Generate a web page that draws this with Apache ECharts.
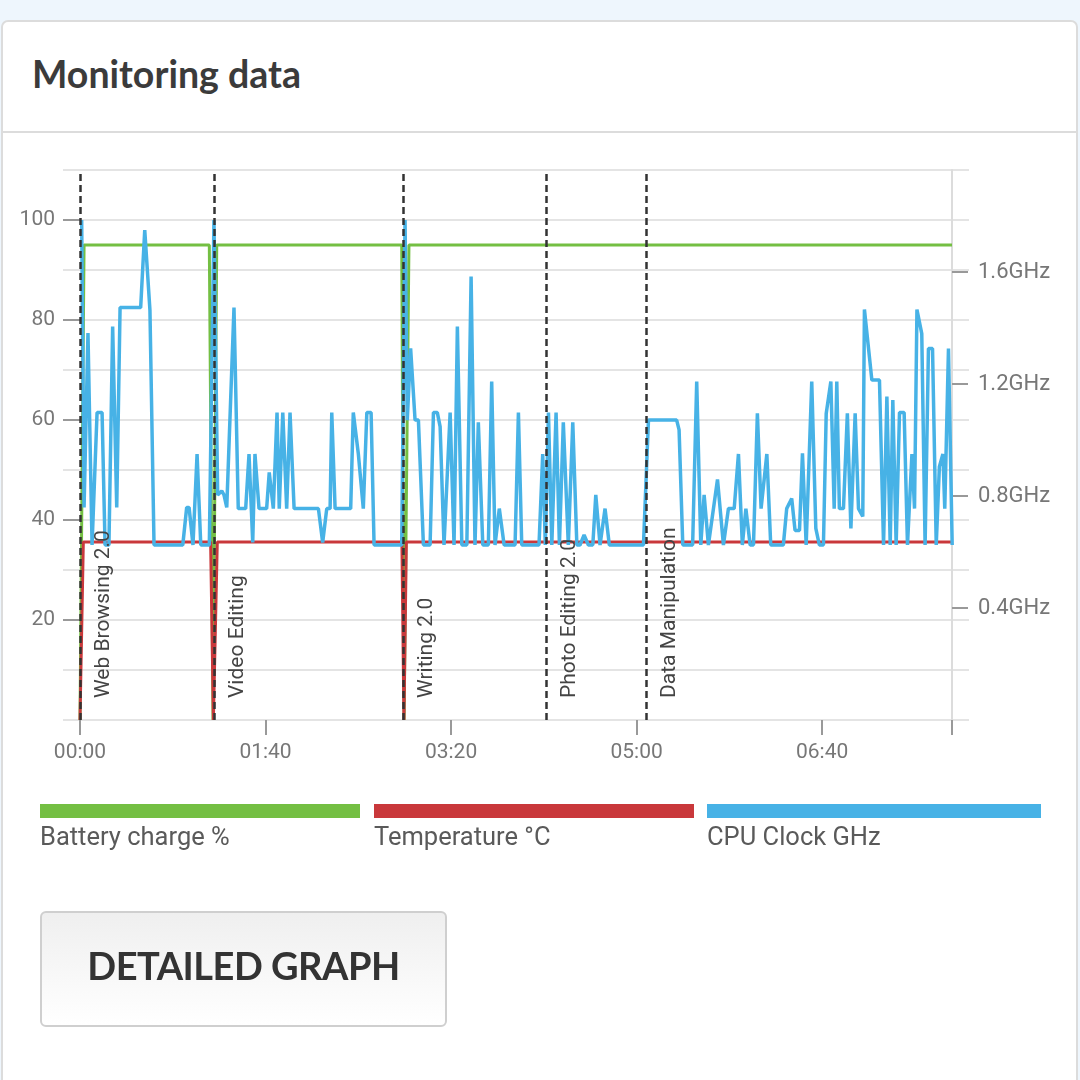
<!DOCTYPE html>
<html>
<head>
<meta charset="utf-8">
<title>Monitoring data</title>
<script src="https://cdn.jsdelivr.net/npm/echarts@6/dist/echarts.min.js"></script>
<style>
  html, body { margin: 0; padding: 0; }
  body { width: 1080px; height: 1080px; background: #eef6fd; position: relative; overflow: hidden; font-family: Roboto, sans-serif; }
  .card { position: absolute; left: 1px; top: 20px; width: 1077px; height: 1080px; background: #fff; border: 2px solid #dcdcdc; border-radius: 7px; box-sizing: border-box; }
  .card-head { height: 109px; border-bottom: 2px solid #dcdcdc; position: relative; }
  .card-head h2 { margin: 0; position: absolute; left: 29px; top: 29px; font: bold 37.5px Lato, sans-serif; color: #3b3b3b; }
  #chart { position: absolute; left: 0; top: 0; width: 1080px; height: 1080px; }
  .lg { position: absolute; top: 804px; }
  .lg .bar { height: 14px; }
  .lg .txt { margin-top: 3px; font: 25.5px Roboto, sans-serif; color: #5a5a5a; white-space: nowrap; }
  .btn { position: absolute; left: 40px; top: 911px; width: 407px; height: 116px; box-sizing: border-box; padding-bottom: 8px; border: 2px solid #cfcfcf; border-radius: 6px; background: linear-gradient(#efefef, #ffffff); font: bold 38px Lato, sans-serif; color: #333; display: flex; align-items: center; justify-content: center; letter-spacing: -0.5px; }
</style>
</head>
<body>
  <div class="card">
    <div class="card-head"><h2>Monitoring data</h2></div>
  </div>
  <div id="chart"></div>
  <div class="lg" style="left:40px;width:320px"><div class="bar" style="background:#74bf43"></div><div class="txt">Battery charge %</div></div>
  <div class="lg" style="left:374px;width:320px"><div class="bar" style="background:#c9383b"></div><div class="txt">Temperature °C</div></div>
  <div class="lg" style="left:707px;width:334px"><div class="bar" style="background:#47b2e6"></div><div class="txt">CPU Clock GHz</div></div>
  <div class="btn">DETAILED GRAPH</div>

<script>
  // minutes since start of the run
  var taskStarts = [0, 72.2, 174.1, 251.2, 305.1];
  var taskNames = ['Web Browsing 2.0', 'Video Editing', 'Writing 2.0', 'Photo Editing 2.0', 'Data Manipulation'];
  var timeTicks = [0, 100, 200, 300, 400];
  var percentTicks = [20, 40, 60, 80, 100];
  var ghzTicks = [0.4, 0.8, 1.2, 1.6];

  // [minute, %]
  var battery = [[0, 0], [2.2, 95], [69.7, 95], [71.7, 0], [73.7, 95], [173.4, 95], [174.7, 0], [177.3, 95], [470, 95]];
  // [minute, °C]
  var temperature = [[0, 0], [1.8, 35.6], [70.4, 35.6], [71.9, 0], [74.0, 35.6], [173.5, 35.6], [174.6, 0], [175.9, 35.6], [470, 35.6]];
  // [minute, GHz]
  var cpuClock = [
    [0.9, 1.786], [2.2, 0.759], [4.3, 1.382], [6.5, 0.625], [9.2, 1.098], [11.9, 1.098], [13.5, 0.625], [15.6, 0.625],
    [17.6, 1.405], [19.8, 0.759], [21.6, 1.473], [32.7, 1.473], [34.9, 1.750], [37.7, 1.464], [39.9, 0.625], [55.4, 0.625],
    [57.5, 0.759], [58.8, 0.759], [60.9, 0.625], [63.1, 0.950], [65.1, 0.625], [69.7, 0.625], [72.2, 1.786],
    [74.2, 0.804], [76.4, 0.818], [77.6, 0.804], [79.1, 0.759], [83.0, 1.473], [85.3, 0.755], [89.3, 0.755], [91.1, 0.950],
    [93.1, 0.634], [94.3, 0.950], [96.5, 0.755], [100.6, 0.755], [102.0, 0.884], [104.2, 0.755], [106.2, 1.098], [107.4, 0.755],
    [109.3, 1.098], [111.4, 0.755], [113.2, 1.098], [115.4, 0.755], [128.5, 0.755], [130.8, 0.634], [133.0, 0.755], [134.8, 0.755],
    [135.7, 1.098], [137.5, 0.755], [145.9, 0.755], [147.3, 1.098], [150.0, 0.952], [152.7, 0.755], [154.6, 1.098], [156.9, 1.098],
    [158.5, 0.625], [173.4, 0.625], [175.2, 1.786],
    [176.4, 1.071], [178.2, 1.327], [180.6, 1.071], [182.4, 1.071], [185.1, 0.625], [188.7, 0.625], [190.5, 1.098], [192.6, 1.098],
    [194.1, 1.048], [196.2, 0.625], [199.5, 1.098], [201.6, 0.625], [203.4, 1.405], [205.8, 0.625], [208.5, 0.625], [210.8, 1.584],
    [212.9, 0.625], [214.7, 1.063], [217.1, 0.625], [220.1, 0.625], [221.9, 1.209], [223.7, 0.625], [226.0, 0.755], [228.6, 0.625],
    [234.5, 0.625], [236.3, 1.098], [238.1, 0.625], [247.4, 0.625], [249.4, 0.950], [250.8, 0.625], [252.5, 1.098], [254.3, 0.625],
    [256.6, 1.098], [258.4, 0.625], [260.5, 1.063], [263.2, 0.625], [265.6, 1.063], [267.8, 0.625], [269.5, 0.625], [271.7, 0.661],
    [274.0, 0.625], [276.4, 0.625], [278.0, 0.804], [280.3, 0.625], [283.0, 0.755], [285.3, 0.625], [303.7, 0.625], [306.4, 1.071],
    [321.6, 1.071], [322.9, 1.036], [324.9, 0.625], [330.2, 0.625], [332.4, 1.209], [334.6, 0.625], [336.4, 0.804], [338.7, 0.625],
    [343.6, 0.859], [346.8, 0.625], [349.5, 0.755], [352.6, 0.755], [354.9, 0.950], [357.0, 0.625], [358.9, 0.755], [361.2, 0.625],
    [363.0, 0.625], [365.1, 1.095], [367.1, 0.755], [370.2, 0.950], [372.3, 0.625], [379.1, 0.625], [380.9, 0.755], [383.6, 0.791],
    [385.4, 0.677], [387.8, 0.677], [389.4, 0.952], [391.4, 0.625], [394.4, 1.209], [396.6, 0.684], [398.5, 0.625], [400.7, 0.625],
    [402.2, 1.095], [404.7, 1.209], [406.5, 0.755], [407.9, 1.209], [409.3, 0.755], [411.5, 0.755], [413.6, 1.095], [415.5, 0.684],
    [417.8, 1.095], [419.6, 0.755], [421.9, 0.727], [422.8, 1.466], [426.8, 1.214], [430.9, 1.214], [433.1, 0.625], [434.9, 1.155],
    [436.7, 0.625], [438.1, 1.143], [439.9, 0.625], [441.7, 1.098], [444.2, 1.098], [446.0, 0.625], [448.4, 0.950], [449.8, 0.755],
    [451.1, 1.466], [453.7, 1.380], [455.5, 0.625], [457.3, 1.327], [459.5, 1.327], [461.5, 0.625], [463.2, 0.905], [465.1, 0.950],
    [466.1, 0.755], [468.1, 1.327], [470.1, 0.625]
  ];

  var chart = echarts.init(document.getElementById('chart'));

  function hhmm(v) {
    var h = Math.floor(v / 60), m = Math.round(v % 60);
    return (h < 10 ? '0' : '') + h + ':' + (m < 10 ? '0' : '') + m;
  }

  var gray = '#777';
  var option = {
    animation: false,
    textStyle: { fontFamily: 'Roboto' },
    grid: { left: 63, right: 111, top: 170, bottom: 360 },
    xAxis: {
      type: 'value', min: -9.16, max: 479.16,
      axisLine: { show: false },
      splitLine: { show: false },
      axisTick: { customValues: timeTicks.concat([470]), length: 15, lineStyle: { color: '#999', width: 2 } },
      axisLabel: { customValues: timeTicks, formatter: hhmm, color: gray, fontSize: 21, margin: 22 }
    },
    yAxis: [
      { // grid lines
        type: 'value', min: 0, max: 110, interval: 10,
        axisLine: { show: false }, axisTick: { show: false }, axisLabel: { show: false },
        splitLine: { lineStyle: { color: '#e4e4e4', width: 2 } }
      },
      { // GHz, right
        type: 'value', position: 'right', min: 0, max: 110 / 56, offset: -17,
        splitLine: { show: false },
        axisLine: { show: true, lineStyle: { color: '#dcdcdc', width: 2 } },
        axisTick: { customValues: ghzTicks, length: 16, lineStyle: { color: '#999', width: 2 } },
        axisLabel: { customValues: ghzTicks, margin: 26, color: gray, fontSize: 22, formatter: function (v) { return v.toFixed(1) + 'GHz'; } }
      },
      { // percent labels, left
        type: 'value', position: 'left', min: 0, max: 110, offset: -17,
        splitLine: { show: false }, axisLine: { show: false },
        axisTick: { customValues: percentTicks, length: 17, lineStyle: { color: '#999', width: 2 } },
        axisLabel: { customValues: percentTicks, margin: 25, color: gray, fontSize: 21 }
      }
    ],
    series: [
      {
        name: 'Battery charge %', type: 'line', yAxisIndex: 0, data: battery, symbol: 'none',
        lineStyle: { color: '#74bf43', width: 3 },
        markLine: {
          silent: true, symbol: 'none',
          lineStyle: { color: '#333', width: 2.5, type: [7, 4] },
          label: { position: 'insideStartBottom', distance: [22, 13], color: '#444', fontSize: 21, fontFamily: 'Roboto' },
          data: taskStarts.map(function (t, i) { return { xAxis: t, label: { formatter: taskNames[i] } }; })
        }
      },
      {
        name: 'Temperature °C', type: 'line', yAxisIndex: 0, data: temperature, symbol: 'none',
        lineStyle: { color: '#c9383b', width: 3 }
      },
      {
        name: 'CPU Clock GHz', type: 'line', yAxisIndex: 1, data: cpuClock, symbol: 'none',
        lineStyle: { color: '#47b2e6', width: 3.5 }
      }
    ]
  };
  chart.setOption(option);
</script>
</body>
</html>
